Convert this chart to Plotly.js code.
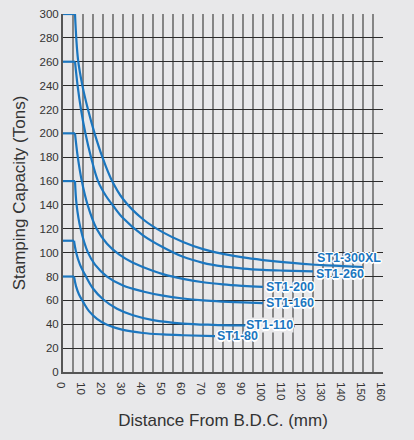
<!DOCTYPE html>
<html>
<head>
<meta charset="utf-8">
<script src="https://cdn.plot.ly/plotly-3.0.1.min.js"></script>
<style>
html,body{margin:0;padding:0;background:#e8e8ea;}
#chart{width:414px;height:440px;}
</style>
</head>
<body>
<div id="chart"></div>
<script>
// Distance from B.D.C. (mm) and stamping capacity (tons) per model
const seriesNames = ["ST1-300XL", "ST1-260", "ST1-200", "ST1-160", "ST1-110", "ST1-80"];

const x300 = [0, 6, 7.5, 9.7, 12.5, 15.8, 19.7, 24, 30, 40, 50, 60, 70, 80, 90, 100, 110, 120, 130, 140, 150];
const y300 = [300, 300, 262, 240, 220, 200, 180, 162, 145, 128, 117, 109, 103, 99, 96, 93.8, 92, 90.6, 89.5, 88.7, 88];

const x260 = [0, 6, 7.3, 9, 11.2, 14, 17.5, 21.5, 25, 30, 40, 50, 60, 70, 80, 90, 100, 110, 125];
const y260 = [260, 260, 240, 220, 200, 180, 160, 147.5, 139.5, 129, 114.5, 104.5, 96.5, 91.5, 88.5, 86.7, 85.6, 85, 84.4];

const x200 = [0, 6, 7.4, 9.4, 12.3, 16.8, 22, 28, 35, 40, 50, 60, 70, 80, 90, 100];
const y200 = [200, 200, 180, 160, 140, 120, 107.5, 98.5, 91.5, 88, 82, 78, 75.2, 73.4, 72.2, 71.3];

const x160 = [0, 6, 6.8, 8.8, 12.5, 16, 22, 30, 40, 50, 60, 70, 80, 90, 100];
const y160 = [160, 160, 140, 120, 100, 90, 80, 72.5, 67.5, 64, 61.6, 60, 59, 58.3, 57.8];

const x110 = [0, 5.5, 6.6, 8.5, 11.5, 15, 20, 27, 35, 45, 60, 75, 90, 100, 116];
const y110 = [110, 110, 100, 90, 80, 70, 61, 53, 47.5, 43.5, 40.6, 39.5, 39, 38.8, 38.5];

const x80 = [0, 5.5, 6.5, 8, 10, 13, 17, 22, 30, 40, 50, 60, 76];
const y80 = [80, 80, 72, 65, 59, 51, 44.5, 39.5, 35.3, 32.7, 31.5, 30.8, 30];

const xTickVals = [0, 10, 20, 30, 40, 50, 60, 70, 80, 90, 100, 110, 120, 130, 140, 150, 160];
const yTickVals = [0, 20, 40, 60, 80, 100, 120, 140, 160, 180, 200, 220, 240, 260, 280, 300];

const xs = [x300, x260, x200, x160, x110, x80];
const ys = [y300, y260, y200, y160, y110, y80];

const blue = "#1b76bf";
const bg = "#e8e8ea";

const traces = [];
xs.forEach((xv, i) => {
  // flat rated-capacity segment
  traces.push({
    x: xv.slice(0, 2), y: ys[i].slice(0, 2), type: "scatter", mode: "lines",
    line: {color: blue, width: 2.2}, hoverinfo: "skip"
  });
  // derating curve
  traces.push({
    x: xv.slice(1), y: ys[i].slice(1), type: "scatter", mode: "lines", name: seriesNames[i],
    line: {color: blue, width: 2.2, shape: "spline", smoothing: 1}, hoverinfo: "skip"
  });
});

const halo = "-1px -1px 0 #fff, 1px -1px 0 #fff, -1px 1px 0 #fff, 1px 1px 0 #fff, 0 1.5px 0 #fff, 1.5px 0 0 #fff, 0 -1.5px 0 #fff, -1.5px 0 0 #fff";
// label placement relative to each series end point
const labelOpts = [
  {xanchor: "left", xshift: -47, yshift: 9},
  {xanchor: "left", xshift: 2, yshift: -3},
  {xanchor: "left", xshift: 2, yshift: 0},
  {xanchor: "left", xshift: 2, yshift: 0},
  {xanchor: "right", xshift: -1, yshift: 1},
  {xanchor: "left", xshift: 1, yshift: 0}
];
const annotations = xs.map((xv, i) => ({
  x: xv[xv.length - 1], y: ys[i][ys[i].length - 1], xref: "x", yref: "y",
  text: seriesNames[i], showarrow: false,
  xanchor: labelOpts[i].xanchor, yanchor: "middle",
  xshift: labelOpts[i].xshift, yshift: labelOpts[i].yshift,
  bgcolor: i === 4 ? bg : "rgba(0,0,0,0)", borderpad: 0,
  font: {family: "Liberation Sans, Arial, sans-serif", size: 12.5, color: blue, weight: 700, shadow: halo}
}));

const layout = {
  width: 414, height: 440,
  paper_bgcolor: bg, plot_bgcolor: bg,
  margin: {l: 63, r: 31, t: 14, b: 68},
  showlegend: false,
  font: {family: "Liberation Sans, Arial, sans-serif", color: "#333"},
  xaxis: {
    range: [0, 160], tickvals: xTickVals, ticks: "", showgrid: true,
    gridcolor: "#858585", gridwidth: 1.5,
    minor: {dtick: 5, tick0: 0, showgrid: true, gridcolor: "#858585", gridwidth: 1.5},
    showline: true, linecolor: "#555", linewidth: 2, zeroline: false,
    tickfont: {size: 11.5, color: "#333"},
    title: {text: "Distance From B.D.C. (mm)", font: {size: 17, color: "#333"}, standoff: 14},
    fixedrange: true
  },
  yaxis: {
    range: [0, 300], tickvals: yTickVals, ticks: "", showgrid: true,
    gridcolor: "#2b2b2b", gridwidth: 1,
    showline: true, linecolor: "#555", linewidth: 2, zeroline: false,
    tickfont: {size: 11.5, color: "#333"},
    title: {text: "Stamping Capacity (Tons)", font: {size: 17, color: "#333"}, standoff: 10},
    fixedrange: true
  },
  annotations: annotations
};

Plotly.newPlot("chart", traces, layout, {displayModeBar: false, staticPlot: true});
</script>
</body>
</html>
